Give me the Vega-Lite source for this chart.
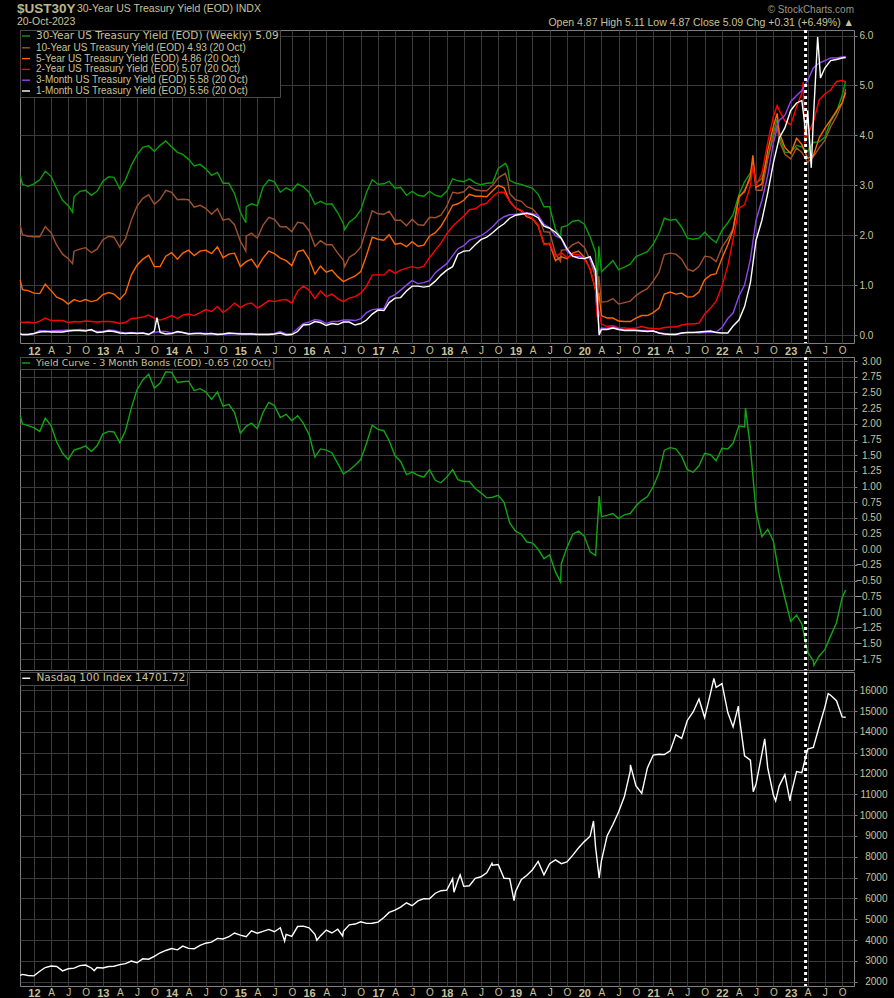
{
  "$schema": "https://vega.github.io/schema/vega-lite/v6.json",
  "background": "#000000",
  "padding": {"left": 16, "top": 2, "right": 11, "bottom": 0},
  "title": {
    "text": "$UST30Y",
    "subtitle": "20-Oct-2023",
    "anchor": "start",
    "offset": 0,
    "dy": 23.5,
    "font": "Liberation Sans",
    "fontSize": 13.5,
    "fontWeight": "bold",
    "color": "#bdb68a",
    "subtitleFont": "Liberation Sans",
    "subtitleFontSize": 10.5,
    "subtitleColor": "#c8c29a",
    "subtitlePadding": 1.5
  },
  "datasets": {
    "y30": [
      {"t":"2011-10-20","v":3.2},{"t":"2011-11","v":3.02},{"t":"2011-12","v":2.98},
      {"t":"2012-01","v":3.03},{"t":"2012-02","v":3.11},{"t":"2012-03","v":3.28},{"t":"2012-04","v":3.18},{"t":"2012-05","v":2.93},{"t":"2012-06","v":2.7},{"t":"2012-07","v":2.59},{"t":"2012-07-24","v":2.46},{"t":"2012-08","v":2.77},{"t":"2012-09","v":2.88},{"t":"2012-10","v":2.9},{"t":"2012-11","v":2.8},{"t":"2012-12","v":2.88},
      {"t":"2013-01","v":3.08},{"t":"2013-02","v":3.17},{"t":"2013-03","v":3.16},{"t":"2013-04","v":2.93},{"t":"2013-05","v":3.11},{"t":"2013-06","v":3.4},{"t":"2013-07","v":3.61},{"t":"2013-08","v":3.76},{"t":"2013-09","v":3.79},{"t":"2013-10","v":3.68},{"t":"2013-11","v":3.8},{"t":"2013-12","v":3.89},
      {"t":"2014-01","v":3.77},{"t":"2014-02","v":3.66},{"t":"2014-03","v":3.62},{"t":"2014-04","v":3.52},{"t":"2014-05","v":3.39},{"t":"2014-06","v":3.42},{"t":"2014-07","v":3.33},{"t":"2014-08","v":3.2},{"t":"2014-09","v":3.26},{"t":"2014-10","v":3.04},{"t":"2014-11","v":3.04},{"t":"2014-12","v":2.83},
      {"t":"2015-01","v":2.46},{"t":"2015-01-30","v":2.25},{"t":"2015-02","v":2.57},{"t":"2015-03","v":2.63},{"t":"2015-04","v":2.59},{"t":"2015-05","v":2.96},{"t":"2015-06","v":3.11},{"t":"2015-07","v":3.07},{"t":"2015-08","v":2.86},{"t":"2015-09","v":2.95},{"t":"2015-10","v":2.89},{"t":"2015-11","v":3.03},{"t":"2015-12","v":2.97},
      {"t":"2016-01","v":2.86},{"t":"2016-02","v":2.62},{"t":"2016-03","v":2.68},{"t":"2016-04","v":2.62},{"t":"2016-05","v":2.63},{"t":"2016-06","v":2.45},{"t":"2016-07","v":2.23},{"t":"2016-07-08","v":2.11},{"t":"2016-08","v":2.26},{"t":"2016-09","v":2.35},{"t":"2016-10","v":2.5},{"t":"2016-11","v":2.86},{"t":"2016-12","v":3.11},
      {"t":"2017-01","v":3.02},{"t":"2017-02","v":3.03},{"t":"2017-03","v":3.08},{"t":"2017-04","v":2.94},{"t":"2017-05","v":2.96},{"t":"2017-06","v":2.8},{"t":"2017-07","v":2.88},{"t":"2017-08","v":2.8},{"t":"2017-09","v":2.78},{"t":"2017-10","v":2.88},{"t":"2017-11","v":2.8},{"t":"2017-12","v":2.77},
      {"t":"2018-01","v":2.88},{"t":"2018-02","v":3.13},{"t":"2018-03","v":3.09},{"t":"2018-04","v":3.07},{"t":"2018-05","v":3.13},{"t":"2018-06","v":3.05},{"t":"2018-07","v":3.01},{"t":"2018-08","v":3.04},{"t":"2018-09","v":3.05},{"t":"2018-10","v":3.34},{"t":"2018-11-08","v":3.44},{"t":"2018-11-20","v":3.36},{"t":"2018-12","v":3.1},
      {"t":"2019-01","v":3.04},{"t":"2019-02","v":3.02},{"t":"2019-03","v":2.98},{"t":"2019-04","v":2.94},{"t":"2019-05","v":2.82},{"t":"2019-06","v":2.57},{"t":"2019-07","v":2.57},{"t":"2019-08","v":2.12},{"t":"2019-08-28","v":1.95},{"t":"2019-09","v":2.16},{"t":"2019-10","v":2.19},{"t":"2019-11","v":2.28},{"t":"2019-12","v":2.3},
      {"t":"2020-01","v":2.22},{"t":"2020-02","v":1.97},{"t":"2020-03","v":1.65},{"t":"2020-03-09","v":0.99},{"t":"2020-03-18","v":1.78},{"t":"2020-04","v":1.27},{"t":"2020-05","v":1.38},{"t":"2020-06","v":1.49},{"t":"2020-07","v":1.31},{"t":"2020-08","v":1.36},{"t":"2020-09","v":1.42},{"t":"2020-10","v":1.57},{"t":"2020-11","v":1.62},{"t":"2020-12","v":1.67},
      {"t":"2021-01","v":1.82},{"t":"2021-02","v":2.04},{"t":"2021-03","v":2.34},{"t":"2021-04","v":2.3},{"t":"2021-05","v":2.32},{"t":"2021-06","v":2.16},{"t":"2021-07","v":1.94},{"t":"2021-08","v":1.92},{"t":"2021-09","v":1.94},{"t":"2021-10","v":2.06},{"t":"2021-11","v":1.94},{"t":"2021-12","v":1.85},
      {"t":"2022-01","v":2.1},{"t":"2022-02","v":2.25},{"t":"2022-03","v":2.41},{"t":"2022-04","v":2.81},{"t":"2022-05","v":3.07},{"t":"2022-06","v":3.25},{"t":"2022-06-14","v":3.44},{"t":"2022-07","v":3.04},{"t":"2022-08","v":3.14},{"t":"2022-09","v":3.56},{"t":"2022-10","v":4.04},{"t":"2022-10-21","v":4.33},{"t":"2022-11","v":4.0},{"t":"2022-12","v":3.66},
      {"t":"2023-01","v":3.66},{"t":"2023-02","v":3.8},{"t":"2023-03","v":3.77},{"t":"2023-04","v":3.68},{"t":"2023-05","v":3.86},{"t":"2023-06","v":3.87},{"t":"2023-07","v":3.96},{"t":"2023-08","v":4.28},{"t":"2023-09","v":4.47},{"t":"2023-10","v":4.8},{"t":"2023-10-20","v":5.09}
    ],
    "y10": [
      {"t":"2011-10-20","v":2.2},{"t":"2011-11","v":2.01},{"t":"2011-12","v":1.98},
      {"t":"2012-01","v":1.97},{"t":"2012-02","v":1.97},{"t":"2012-03","v":2.17},{"t":"2012-04","v":2.05},{"t":"2012-05","v":1.8},{"t":"2012-06","v":1.62},{"t":"2012-07","v":1.53},{"t":"2012-07-24","v":1.43},{"t":"2012-08","v":1.68},{"t":"2012-09","v":1.72},{"t":"2012-10","v":1.75},{"t":"2012-11","v":1.65},{"t":"2012-12","v":1.72},
      {"t":"2013-01","v":1.91},{"t":"2013-02","v":1.98},{"t":"2013-03","v":1.96},{"t":"2013-04","v":1.76},{"t":"2013-05","v":1.93},{"t":"2013-06","v":2.3},{"t":"2013-07","v":2.58},{"t":"2013-08","v":2.74},{"t":"2013-09","v":2.81},{"t":"2013-10","v":2.62},{"t":"2013-11","v":2.72},{"t":"2013-12","v":2.9},
      {"t":"2014-01","v":2.86},{"t":"2014-02","v":2.71},{"t":"2014-03","v":2.72},{"t":"2014-04","v":2.71},{"t":"2014-05","v":2.56},{"t":"2014-06","v":2.6},{"t":"2014-07","v":2.54},{"t":"2014-08","v":2.42},{"t":"2014-09","v":2.53},{"t":"2014-10","v":2.3},{"t":"2014-11","v":2.33},{"t":"2014-12","v":2.21},
      {"t":"2015-01","v":1.88},{"t":"2015-01-30","v":1.68},{"t":"2015-02","v":1.98},{"t":"2015-03","v":2.04},{"t":"2015-04","v":1.94},{"t":"2015-05","v":2.2},{"t":"2015-06","v":2.36},{"t":"2015-07","v":2.32},{"t":"2015-08","v":2.17},{"t":"2015-09","v":2.17},{"t":"2015-10","v":2.07},{"t":"2015-11","v":2.26},{"t":"2015-12","v":2.24},
      {"t":"2016-01","v":2.09},{"t":"2016-02","v":1.78},{"t":"2016-03","v":1.89},{"t":"2016-04","v":1.81},{"t":"2016-05","v":1.81},{"t":"2016-06","v":1.64},{"t":"2016-07","v":1.5},{"t":"2016-07-08","v":1.37},{"t":"2016-08","v":1.56},{"t":"2016-09","v":1.63},{"t":"2016-10","v":1.76},{"t":"2016-11","v":2.14},{"t":"2016-12","v":2.49},
      {"t":"2017-01","v":2.43},{"t":"2017-02","v":2.42},{"t":"2017-03","v":2.48},{"t":"2017-04","v":2.3},{"t":"2017-05","v":2.3},{"t":"2017-06","v":2.19},{"t":"2017-07","v":2.32},{"t":"2017-08","v":2.21},{"t":"2017-09","v":2.2},{"t":"2017-10","v":2.36},{"t":"2017-11","v":2.35},{"t":"2017-12","v":2.4},
      {"t":"2018-01","v":2.58},{"t":"2018-02","v":2.86},{"t":"2018-03","v":2.84},{"t":"2018-04","v":2.87},{"t":"2018-05","v":2.98},{"t":"2018-06","v":2.91},{"t":"2018-07","v":2.89},{"t":"2018-08","v":2.89},{"t":"2018-09","v":3.0},{"t":"2018-10","v":3.15},{"t":"2018-11-08","v":3.24},{"t":"2018-11-20","v":3.1},{"t":"2018-12","v":2.83},
      {"t":"2019-01","v":2.71},{"t":"2019-02","v":2.68},{"t":"2019-03","v":2.57},{"t":"2019-04","v":2.53},{"t":"2019-05","v":2.4},{"t":"2019-06","v":2.07},{"t":"2019-07","v":2.06},{"t":"2019-08","v":1.63},{"t":"2019-08-28","v":1.47},{"t":"2019-09","v":1.7},{"t":"2019-10","v":1.71},{"t":"2019-11","v":1.81},{"t":"2019-12","v":1.86},
      {"t":"2020-01","v":1.76},{"t":"2020-02","v":1.5},{"t":"2020-03","v":1.15},{"t":"2020-03-09","v":0.54},{"t":"2020-03-18","v":1.18},{"t":"2020-04","v":0.66},{"t":"2020-05","v":0.67},{"t":"2020-06","v":0.73},{"t":"2020-07","v":0.62},{"t":"2020-08","v":0.65},{"t":"2020-09","v":0.68},{"t":"2020-10","v":0.79},{"t":"2020-11","v":0.87},{"t":"2020-12","v":0.93},
      {"t":"2021-01","v":1.08},{"t":"2021-02","v":1.26},{"t":"2021-03","v":1.61},{"t":"2021-04","v":1.64},{"t":"2021-05","v":1.62},{"t":"2021-06","v":1.52},{"t":"2021-07","v":1.32},{"t":"2021-08","v":1.28},{"t":"2021-09","v":1.37},{"t":"2021-10","v":1.58},{"t":"2021-11","v":1.56},{"t":"2021-12","v":1.47},
      {"t":"2022-01","v":1.76},{"t":"2022-02","v":1.93},{"t":"2022-03","v":2.13},{"t":"2022-04","v":2.75},{"t":"2022-05","v":2.9},{"t":"2022-06","v":3.14},{"t":"2022-06-14","v":3.48},{"t":"2022-07","v":2.9},{"t":"2022-08","v":2.9},{"t":"2022-09","v":3.52},{"t":"2022-10","v":3.98},{"t":"2022-10-21","v":4.22},{"t":"2022-11","v":3.89},{"t":"2022-12","v":3.62},
      {"t":"2023-01","v":3.53},{"t":"2023-02","v":3.75},{"t":"2023-03","v":3.66},{"t":"2023-04","v":3.46},{"t":"2023-05","v":3.57},{"t":"2023-06","v":3.75},{"t":"2023-07","v":3.9},{"t":"2023-08","v":4.17},{"t":"2023-09","v":4.38},{"t":"2023-10","v":4.65},{"t":"2023-10-20","v":4.93}
    ],
    "y5": [
      {"t":"2011-10-20","v":1.1},{"t":"2011-11","v":0.91},{"t":"2011-12","v":0.89},
      {"t":"2012-01","v":0.84},{"t":"2012-02","v":0.83},{"t":"2012-03","v":1.02},{"t":"2012-04","v":0.89},{"t":"2012-05","v":0.76},{"t":"2012-06","v":0.71},{"t":"2012-07","v":0.62},{"t":"2012-08","v":0.71},{"t":"2012-09","v":0.67},{"t":"2012-10","v":0.71},{"t":"2012-11","v":0.67},{"t":"2012-12","v":0.7},
      {"t":"2013-01","v":0.81},{"t":"2013-02","v":0.85},{"t":"2013-03","v":0.82},{"t":"2013-04","v":0.71},{"t":"2013-05","v":0.84},{"t":"2013-06","v":1.2},{"t":"2013-07","v":1.4},{"t":"2013-08","v":1.52},{"t":"2013-09","v":1.6},{"t":"2013-10","v":1.37},{"t":"2013-11","v":1.37},{"t":"2013-12","v":1.58},
      {"t":"2014-01","v":1.65},{"t":"2014-02","v":1.52},{"t":"2014-03","v":1.64},{"t":"2014-04","v":1.7},{"t":"2014-05","v":1.59},{"t":"2014-06","v":1.68},{"t":"2014-07","v":1.7},{"t":"2014-08","v":1.63},{"t":"2014-09","v":1.77},{"t":"2014-10","v":1.55},{"t":"2014-11","v":1.62},{"t":"2014-12","v":1.64},
      {"t":"2015-01","v":1.37},{"t":"2015-02","v":1.47},{"t":"2015-03","v":1.52},{"t":"2015-04","v":1.35},{"t":"2015-05","v":1.54},{"t":"2015-06","v":1.68},{"t":"2015-07","v":1.63},{"t":"2015-08","v":1.54},{"t":"2015-09","v":1.49},{"t":"2015-10","v":1.39},{"t":"2015-11","v":1.67},{"t":"2015-12","v":1.7},
      {"t":"2016-01","v":1.52},{"t":"2016-02","v":1.22},{"t":"2016-03","v":1.38},{"t":"2016-04","v":1.26},{"t":"2016-05","v":1.3},{"t":"2016-06","v":1.17},{"t":"2016-07","v":1.07},{"t":"2016-08","v":1.13},{"t":"2016-09","v":1.18},{"t":"2016-10","v":1.27},{"t":"2016-11","v":1.6},{"t":"2016-12","v":1.96},
      {"t":"2017-01","v":1.92},{"t":"2017-02","v":1.9},{"t":"2017-03","v":2.01},{"t":"2017-04","v":1.82},{"t":"2017-05","v":1.84},{"t":"2017-06","v":1.77},{"t":"2017-07","v":1.87},{"t":"2017-08","v":1.78},{"t":"2017-09","v":1.8},{"t":"2017-10","v":1.98},{"t":"2017-11","v":2.05},{"t":"2017-12","v":2.18},
      {"t":"2018-01","v":2.38},{"t":"2018-02","v":2.6},{"t":"2018-03","v":2.63},{"t":"2018-04","v":2.7},{"t":"2018-05","v":2.82},{"t":"2018-06","v":2.78},{"t":"2018-07","v":2.78},{"t":"2018-08","v":2.77},{"t":"2018-09","v":2.89},{"t":"2018-10","v":3.0},{"t":"2018-11","v":2.95},{"t":"2018-12","v":2.68},
      {"t":"2019-01","v":2.54},{"t":"2019-02","v":2.49},{"t":"2019-03","v":2.37},{"t":"2019-04","v":2.33},{"t":"2019-05","v":2.19},{"t":"2019-06","v":1.83},{"t":"2019-07","v":1.83},{"t":"2019-08","v":1.49},{"t":"2019-09","v":1.57},{"t":"2019-10","v":1.53},{"t":"2019-11","v":1.64},{"t":"2019-12","v":1.68},
      {"t":"2020-01","v":1.56},{"t":"2020-02","v":1.32},{"t":"2020-03","v":0.9},{"t":"2020-03-09","v":0.46},{"t":"2020-03-18","v":0.85},{"t":"2020-04","v":0.39},{"t":"2020-05","v":0.34},{"t":"2020-06","v":0.34},{"t":"2020-07","v":0.28},{"t":"2020-08","v":0.27},{"t":"2020-09","v":0.27},{"t":"2020-10","v":0.34},{"t":"2020-11","v":0.39},{"t":"2020-12","v":0.39},
      {"t":"2021-01","v":0.45},{"t":"2021-02","v":0.54},{"t":"2021-03","v":0.82},{"t":"2021-04","v":0.86},{"t":"2021-05","v":0.82},{"t":"2021-06","v":0.84},{"t":"2021-07","v":0.76},{"t":"2021-08","v":0.77},{"t":"2021-09","v":0.86},{"t":"2021-10","v":1.11},{"t":"2021-11","v":1.2},{"t":"2021-12","v":1.23},
      {"t":"2022-01","v":1.54},{"t":"2022-02","v":1.81},{"t":"2022-03","v":2.11},{"t":"2022-04","v":2.78},{"t":"2022-05","v":2.87},{"t":"2022-06","v":3.19},{"t":"2022-06-14","v":3.6},{"t":"2022-07","v":2.96},{"t":"2022-08","v":3.03},{"t":"2022-09","v":3.7},{"t":"2022-10","v":4.18},{"t":"2022-10-21","v":4.44},{"t":"2022-11","v":4.06},{"t":"2022-12","v":3.76},
      {"t":"2023-01","v":3.64},{"t":"2023-02","v":3.94},{"t":"2023-03","v":3.82},{"t":"2023-04","v":3.54},{"t":"2023-05","v":3.59},{"t":"2023-06","v":3.95},{"t":"2023-07","v":4.14},{"t":"2023-08","v":4.31},{"t":"2023-09","v":4.49},{"t":"2023-10","v":4.65},{"t":"2023-10-20","v":4.86}
    ],
    "y2": [
      {"t":"2011-10-20","v":0.28},{"t":"2011-11","v":0.25},{"t":"2011-12","v":0.26},
      {"t":"2012-01","v":0.24},{"t":"2012-02","v":0.28},{"t":"2012-03","v":0.34},{"t":"2012-04","v":0.29},{"t":"2012-05","v":0.29},{"t":"2012-06","v":0.29},{"t":"2012-07","v":0.25},{"t":"2012-08","v":0.27},{"t":"2012-09","v":0.26},{"t":"2012-10","v":0.28},{"t":"2012-11","v":0.27},{"t":"2012-12","v":0.26},
      {"t":"2013-01","v":0.27},{"t":"2013-02","v":0.27},{"t":"2013-03","v":0.26},{"t":"2013-04","v":0.23},{"t":"2013-05","v":0.25},{"t":"2013-06","v":0.33},{"t":"2013-07","v":0.34},{"t":"2013-08","v":0.36},{"t":"2013-09","v":0.4},{"t":"2013-10","v":0.34},{"t":"2013-11","v":0.3},{"t":"2013-12","v":0.34},
      {"t":"2014-01","v":0.39},{"t":"2014-02","v":0.33},{"t":"2014-03","v":0.4},{"t":"2014-04","v":0.42},{"t":"2014-05","v":0.39},{"t":"2014-06","v":0.45},{"t":"2014-07","v":0.51},{"t":"2014-08","v":0.47},{"t":"2014-09","v":0.57},{"t":"2014-10","v":0.45},{"t":"2014-11","v":0.53},{"t":"2014-12","v":0.64},
      {"t":"2015-01","v":0.55},{"t":"2015-02","v":0.62},{"t":"2015-03","v":0.64},{"t":"2015-04","v":0.54},{"t":"2015-05","v":0.61},{"t":"2015-06","v":0.69},{"t":"2015-07","v":0.67},{"t":"2015-08","v":0.7},{"t":"2015-09","v":0.71},{"t":"2015-10","v":0.64},{"t":"2015-11","v":0.88},{"t":"2015-12","v":0.98},
      {"t":"2016-01","v":0.9},{"t":"2016-02","v":0.73},{"t":"2016-03","v":0.88},{"t":"2016-04","v":0.77},{"t":"2016-05","v":0.82},{"t":"2016-06","v":0.73},{"t":"2016-07","v":0.67},{"t":"2016-08","v":0.74},{"t":"2016-09","v":0.77},{"t":"2016-10","v":0.84},{"t":"2016-11","v":0.98},{"t":"2016-12","v":1.2},
      {"t":"2017-01","v":1.21},{"t":"2017-02","v":1.2},{"t":"2017-03","v":1.31},{"t":"2017-04","v":1.24},{"t":"2017-05","v":1.3},{"t":"2017-06","v":1.34},{"t":"2017-07","v":1.37},{"t":"2017-08","v":1.34},{"t":"2017-09","v":1.38},{"t":"2017-10","v":1.55},{"t":"2017-11","v":1.7},{"t":"2017-12","v":1.84},
      {"t":"2018-01","v":2.03},{"t":"2018-02","v":2.18},{"t":"2018-03","v":2.28},{"t":"2018-04","v":2.38},{"t":"2018-05","v":2.51},{"t":"2018-06","v":2.53},{"t":"2018-07","v":2.61},{"t":"2018-08","v":2.64},{"t":"2018-09","v":2.77},{"t":"2018-10","v":2.86},{"t":"2018-11","v":2.86},{"t":"2018-12","v":2.68},
      {"t":"2019-01","v":2.54},{"t":"2019-02","v":2.5},{"t":"2019-03","v":2.41},{"t":"2019-04","v":2.34},{"t":"2019-05","v":2.21},{"t":"2019-06","v":1.81},{"t":"2019-07","v":1.84},{"t":"2019-08","v":1.57},{"t":"2019-09","v":1.65},{"t":"2019-10","v":1.55},{"t":"2019-11","v":1.61},{"t":"2019-12","v":1.61},
      {"t":"2020-01","v":1.52},{"t":"2020-02","v":1.33},{"t":"2020-03","v":0.9},{"t":"2020-03-09","v":0.37},{"t":"2020-03-18","v":0.5},{"t":"2020-04","v":0.22},{"t":"2020-05","v":0.17},{"t":"2020-06","v":0.19},{"t":"2020-07","v":0.14},{"t":"2020-08","v":0.14},{"t":"2020-09","v":0.13},{"t":"2020-10","v":0.14},{"t":"2020-11","v":0.17},{"t":"2020-12","v":0.14},
      {"t":"2021-01","v":0.13},{"t":"2021-02","v":0.12},{"t":"2021-03","v":0.15},{"t":"2021-04","v":0.16},{"t":"2021-05","v":0.16},{"t":"2021-06","v":0.2},{"t":"2021-07","v":0.22},{"t":"2021-08","v":0.22},{"t":"2021-09","v":0.24},{"t":"2021-10","v":0.42},{"t":"2021-11","v":0.54},{"t":"2021-12","v":0.68},
      {"t":"2022-01","v":0.98},{"t":"2022-02","v":1.39},{"t":"2022-03","v":1.91},{"t":"2022-04","v":2.54},{"t":"2022-05","v":2.61},{"t":"2022-06","v":2.99},{"t":"2022-06-14","v":3.4},{"t":"2022-07","v":3.0},{"t":"2022-08","v":3.24},{"t":"2022-09","v":3.86},{"t":"2022-10","v":4.38},{"t":"2022-10-21","v":4.6},{"t":"2022-11","v":4.5},{"t":"2022-12","v":4.29},
      {"t":"2023-01","v":4.21},{"t":"2023-02","v":4.57},{"t":"2023-03","v":4.85},{"t":"2023-03-08","v":5.07},{"t":"2023-03-17","v":3.85},{"t":"2023-04","v":4.02},{"t":"2023-05","v":4.26},{"t":"2023-06","v":4.71},{"t":"2023-07","v":4.83},{"t":"2023-08","v":4.91},{"t":"2023-09","v":5.08},{"t":"2023-10","v":5.1},{"t":"2023-10-20","v":5.07}
    ],
    "m3": [
      {"t":"2011-10-20","v":0.02},{"t":"2011-11","v":0.01},{"t":"2011-12","v":0.01},
      {"t":"2012-01","v":0.03},{"t":"2012-02","v":0.09},{"t":"2012-03","v":0.08},{"t":"2012-04","v":0.08},{"t":"2012-05","v":0.09},{"t":"2012-06","v":0.09},{"t":"2012-07","v":0.1},{"t":"2012-08","v":0.1},{"t":"2012-09","v":0.11},{"t":"2012-10","v":0.1},{"t":"2012-11","v":0.09},{"t":"2012-12","v":0.07},
      {"t":"2013-01","v":0.07},{"t":"2013-02","v":0.1},{"t":"2013-03","v":0.09},{"t":"2013-04","v":0.06},{"t":"2013-05","v":0.04},{"t":"2013-06","v":0.05},{"t":"2013-07","v":0.04},{"t":"2013-08","v":0.04},{"t":"2013-09","v":0.02},{"t":"2013-10","v":0.05},{"t":"2013-11","v":0.07},{"t":"2013-12","v":0.07},
      {"t":"2014-01","v":0.04},{"t":"2014-02","v":0.05},{"t":"2014-03","v":0.05},{"t":"2014-04","v":0.03},{"t":"2014-05","v":0.03},{"t":"2014-06","v":0.04},{"t":"2014-07","v":0.03},{"t":"2014-08","v":0.03},{"t":"2014-09","v":0.02},{"t":"2014-10","v":0.02},{"t":"2014-11","v":0.02},{"t":"2014-12","v":0.03},
      {"t":"2015-01","v":0.03},{"t":"2015-02","v":0.02},{"t":"2015-03","v":0.03},{"t":"2015-04","v":0.02},{"t":"2015-05","v":0.02},{"t":"2015-06","v":0.02},{"t":"2015-07","v":0.03},{"t":"2015-08","v":0.07},{"t":"2015-09","v":0.02},{"t":"2015-10","v":0.02},{"t":"2015-11","v":0.13},{"t":"2015-12","v":0.23},
      {"t":"2016-01","v":0.26},{"t":"2016-02","v":0.31},{"t":"2016-03","v":0.29},{"t":"2016-04","v":0.23},{"t":"2016-05","v":0.27},{"t":"2016-06","v":0.27},{"t":"2016-07","v":0.3},{"t":"2016-08","v":0.3},{"t":"2016-09","v":0.29},{"t":"2016-10","v":0.33},{"t":"2016-11","v":0.45},{"t":"2016-12","v":0.51},
      {"t":"2017-01","v":0.52},{"t":"2017-02","v":0.53},{"t":"2017-03","v":0.75},{"t":"2017-04","v":0.81},{"t":"2017-05","v":0.9},{"t":"2017-06","v":1.0},{"t":"2017-07","v":1.09},{"t":"2017-08","v":1.03},{"t":"2017-09","v":1.05},{"t":"2017-10","v":1.09},{"t":"2017-11","v":1.25},{"t":"2017-12","v":1.34},
      {"t":"2018-01","v":1.43},{"t":"2018-02","v":1.59},{"t":"2018-03","v":1.73},{"t":"2018-04","v":1.79},{"t":"2018-05","v":1.9},{"t":"2018-06","v":1.94},{"t":"2018-07","v":1.99},{"t":"2018-08","v":2.07},{"t":"2018-09","v":2.17},{"t":"2018-10","v":2.29},{"t":"2018-11","v":2.37},{"t":"2018-12","v":2.41},
      {"t":"2019-01","v":2.42},{"t":"2019-02","v":2.44},{"t":"2019-03","v":2.45},{"t":"2019-04","v":2.43},{"t":"2019-05","v":2.4},{"t":"2019-06","v":2.22},{"t":"2019-07","v":2.15},{"t":"2019-08","v":1.99},{"t":"2019-09","v":1.93},{"t":"2019-10","v":1.68},{"t":"2019-11","v":1.57},{"t":"2019-12","v":1.57},
      {"t":"2020-01","v":1.55},{"t":"2020-02","v":1.54},{"t":"2020-03","v":1.25},{"t":"2020-03-20","v":0.05},{"t":"2020-04","v":0.14},{"t":"2020-05","v":0.13},{"t":"2020-06","v":0.16},{"t":"2020-07","v":0.13},{"t":"2020-08","v":0.1},{"t":"2020-09","v":0.11},{"t":"2020-10","v":0.1},{"t":"2020-11","v":0.09},{"t":"2020-12","v":0.09},
      {"t":"2021-01","v":0.08},{"t":"2021-02","v":0.04},{"t":"2021-03","v":0.03},{"t":"2021-04","v":0.02},{"t":"2021-05","v":0.02},{"t":"2021-06","v":0.04},{"t":"2021-07","v":0.05},{"t":"2021-08","v":0.05},{"t":"2021-09","v":0.04},{"t":"2021-10","v":0.05},{"t":"2021-11","v":0.05},{"t":"2021-12","v":0.06},
      {"t":"2022-01","v":0.15},{"t":"2022-02","v":0.33},{"t":"2022-03","v":0.44},{"t":"2022-04","v":0.78},{"t":"2022-05","v":1.0},{"t":"2022-06","v":1.52},{"t":"2022-07","v":2.3},{"t":"2022-08","v":2.7},{"t":"2022-09","v":3.2},{"t":"2022-10","v":3.85},{"t":"2022-11","v":4.3},{"t":"2022-12","v":4.4},
      {"t":"2023-01","v":4.68},{"t":"2023-02","v":4.8},{"t":"2023-03","v":4.9},{"t":"2023-04","v":5.1},{"t":"2023-05","v":5.35},{"t":"2023-06","v":5.45},{"t":"2023-07","v":5.5},{"t":"2023-08","v":5.55},{"t":"2023-09","v":5.55},{"t":"2023-10","v":5.57},{"t":"2023-10-20","v":5.58}
    ],
    "m1": [
      {"t":"2011-10-20","v":0.02},{"t":"2011-11","v":0.01},{"t":"2011-12","v":0.01},
      {"t":"2012-01","v":0.03},{"t":"2012-02","v":0.06},{"t":"2012-03","v":0.07},{"t":"2012-04","v":0.06},{"t":"2012-05","v":0.06},{"t":"2012-06","v":0.06},{"t":"2012-07","v":0.08},{"t":"2012-08","v":0.09},{"t":"2012-09","v":0.09},{"t":"2012-10","v":0.08},{"t":"2012-11","v":0.11},{"t":"2012-12","v":0.05},
      {"t":"2013-01","v":0.06},{"t":"2013-02","v":0.08},{"t":"2013-03","v":0.07},{"t":"2013-04","v":0.04},{"t":"2013-05","v":0.03},{"t":"2013-06","v":0.04},{"t":"2013-07","v":0.03},{"t":"2013-08","v":0.04},{"t":"2013-09","v":0.01},{"t":"2013-10","v":0.08},{"t":"2013-10-15","v":0.35},{"t":"2013-11","v":0.05},{"t":"2013-12","v":0.02},
      {"t":"2014-01","v":0.03},{"t":"2014-02","v":0.07},{"t":"2014-03","v":0.05},{"t":"2014-04","v":0.02},{"t":"2014-05","v":0.03},{"t":"2014-06","v":0.03},{"t":"2014-07","v":0.02},{"t":"2014-08","v":0.03},{"t":"2014-09","v":0.01},{"t":"2014-10","v":0.02},{"t":"2014-11","v":0.04},{"t":"2014-12","v":0.03},
      {"t":"2015-01","v":0.02},{"t":"2015-02","v":0.02},{"t":"2015-03","v":0.02},{"t":"2015-04","v":0.01},{"t":"2015-05","v":0.01},{"t":"2015-06","v":0.01},{"t":"2015-07","v":0.02},{"t":"2015-08","v":0.04},{"t":"2015-09","v":0.0},{"t":"2015-10","v":0.01},{"t":"2015-11","v":0.07},{"t":"2015-12","v":0.2},
      {"t":"2016-01","v":0.21},{"t":"2016-02","v":0.27},{"t":"2016-03","v":0.25},{"t":"2016-04","v":0.19},{"t":"2016-05","v":0.23},{"t":"2016-06","v":0.21},{"t":"2016-07","v":0.26},{"t":"2016-08","v":0.26},{"t":"2016-09","v":0.2},{"t":"2016-10","v":0.23},{"t":"2016-11","v":0.3},{"t":"2016-12","v":0.42},
      {"t":"2017-01","v":0.5},{"t":"2017-02","v":0.49},{"t":"2017-03","v":0.65},{"t":"2017-04","v":0.74},{"t":"2017-05","v":0.75},{"t":"2017-06","v":0.88},{"t":"2017-07","v":0.98},{"t":"2017-08","v":0.98},{"t":"2017-09","v":0.96},{"t":"2017-10","v":0.98},{"t":"2017-11","v":1.08},{"t":"2017-12","v":1.2},
      {"t":"2018-01","v":1.3},{"t":"2018-02","v":1.37},{"t":"2018-03","v":1.62},{"t":"2018-04","v":1.68},{"t":"2018-05","v":1.69},{"t":"2018-06","v":1.81},{"t":"2018-07","v":1.91},{"t":"2018-08","v":1.96},{"t":"2018-09","v":2.05},{"t":"2018-10","v":2.15},{"t":"2018-11","v":2.23},{"t":"2018-12","v":2.34},
      {"t":"2019-01","v":2.4},{"t":"2019-02","v":2.42},{"t":"2019-03","v":2.44},{"t":"2019-04","v":2.41},{"t":"2019-05","v":2.35},{"t":"2019-06","v":2.18},{"t":"2019-07","v":2.14},{"t":"2019-08","v":2.06},{"t":"2019-09","v":1.94},{"t":"2019-10","v":1.73},{"t":"2019-11","v":1.58},{"t":"2019-12","v":1.54},
      {"t":"2020-01","v":1.53},{"t":"2020-02","v":1.57},{"t":"2020-03","v":1.3},{"t":"2020-03-20","v":0.0},{"t":"2020-04","v":0.11},{"t":"2020-05","v":0.11},{"t":"2020-06","v":0.14},{"t":"2020-07","v":0.11},{"t":"2020-08","v":0.09},{"t":"2020-09","v":0.09},{"t":"2020-10","v":0.09},{"t":"2020-11","v":0.08},{"t":"2020-12","v":0.07},
      {"t":"2021-01","v":0.08},{"t":"2021-02","v":0.04},{"t":"2021-03","v":0.02},{"t":"2021-04","v":0.01},{"t":"2021-05","v":0.01},{"t":"2021-06","v":0.04},{"t":"2021-07","v":0.05},{"t":"2021-08","v":0.05},{"t":"2021-09","v":0.06},{"t":"2021-10","v":0.07},{"t":"2021-11","v":0.08},{"t":"2021-12","v":0.05},
      {"t":"2022-01","v":0.04},{"t":"2022-02","v":0.04},{"t":"2022-03","v":0.18},{"t":"2022-04","v":0.3},{"t":"2022-05","v":0.57},{"t":"2022-06","v":1.05},{"t":"2022-07","v":1.9},{"t":"2022-08","v":2.3},{"t":"2022-09","v":2.85},{"t":"2022-10","v":3.45},{"t":"2022-11","v":3.95},{"t":"2022-12","v":4.15},
      {"t":"2023-01","v":4.5},{"t":"2023-02","v":4.65},{"t":"2023-03","v":4.7},{"t":"2023-03-24","v":4.0},{"t":"2023-04","v":4.5},{"t":"2023-04-20","v":3.35},{"t":"2023-05","v":4.3},{"t":"2023-05-24","v":5.97},{"t":"2023-06","v":5.55},{"t":"2023-06-08","v":5.15},{"t":"2023-07","v":5.35},{"t":"2023-08","v":5.5},{"t":"2023-09","v":5.52},{"t":"2023-10","v":5.55},{"t":"2023-10-20","v":5.56}
    ],
    "curve": [
      {"t":"2011-10-20","v":2.13},{"t":"2011-11","v":2.0},{"t":"2011-12","v":1.97},
      {"t":"2012-01","v":1.94},{"t":"2012-02","v":1.88},{"t":"2012-03","v":2.09},{"t":"2012-04","v":1.97},{"t":"2012-05","v":1.71},{"t":"2012-06","v":1.53},{"t":"2012-07","v":1.43},{"t":"2012-08","v":1.58},{"t":"2012-09","v":1.61},{"t":"2012-10","v":1.65},{"t":"2012-11","v":1.56},{"t":"2012-12","v":1.65},
      {"t":"2013-01","v":1.84},{"t":"2013-02","v":1.88},{"t":"2013-03","v":1.87},{"t":"2013-04","v":1.7},{"t":"2013-05","v":1.89},{"t":"2013-06","v":2.25},{"t":"2013-07","v":2.54},{"t":"2013-08","v":2.7},{"t":"2013-09","v":2.79},{"t":"2013-10","v":2.57},{"t":"2013-11","v":2.65},{"t":"2013-12","v":2.83},
      {"t":"2014-01","v":2.82},{"t":"2014-02","v":2.66},{"t":"2014-03","v":2.67},{"t":"2014-04","v":2.68},{"t":"2014-05","v":2.53},{"t":"2014-06","v":2.56},{"t":"2014-07","v":2.51},{"t":"2014-08","v":2.39},{"t":"2014-09","v":2.51},{"t":"2014-10","v":2.28},{"t":"2014-11","v":2.31},{"t":"2014-12","v":2.18},
      {"t":"2015-01","v":1.85},{"t":"2015-02","v":1.96},{"t":"2015-03","v":2.01},{"t":"2015-04","v":1.92},{"t":"2015-05","v":2.18},{"t":"2015-06","v":2.34},{"t":"2015-07","v":2.29},{"t":"2015-08","v":2.1},{"t":"2015-09","v":2.15},{"t":"2015-10","v":2.05},{"t":"2015-11","v":2.13},{"t":"2015-12","v":2.01},
      {"t":"2016-01","v":1.83},{"t":"2016-02","v":1.47},{"t":"2016-03","v":1.6},{"t":"2016-04","v":1.58},{"t":"2016-05","v":1.54},{"t":"2016-06","v":1.37},{"t":"2016-07","v":1.2},{"t":"2016-08","v":1.26},{"t":"2016-09","v":1.34},{"t":"2016-10","v":1.43},{"t":"2016-11","v":1.69},{"t":"2016-12","v":1.98},
      {"t":"2017-01","v":1.91},{"t":"2017-02","v":1.89},{"t":"2017-03","v":1.73},{"t":"2017-04","v":1.49},{"t":"2017-05","v":1.4},{"t":"2017-06","v":1.19},{"t":"2017-07","v":1.23},{"t":"2017-08","v":1.18},{"t":"2017-09","v":1.15},{"t":"2017-10","v":1.27},{"t":"2017-11","v":1.1},{"t":"2017-12","v":1.06},
      {"t":"2018-01","v":1.15},{"t":"2018-02","v":1.27},{"t":"2018-03","v":1.11},{"t":"2018-04","v":1.08},{"t":"2018-05","v":1.08},{"t":"2018-06","v":0.97},{"t":"2018-07","v":0.9},{"t":"2018-08","v":0.82},{"t":"2018-09","v":0.83},{"t":"2018-10","v":0.86},{"t":"2018-11","v":0.75},{"t":"2018-12","v":0.42},
      {"t":"2019-01","v":0.29},{"t":"2019-02","v":0.24},{"t":"2019-03","v":0.12},{"t":"2019-04","v":0.1},{"t":"2019-05","v":0.0},{"t":"2019-06","v":-0.15},{"t":"2019-07","v":-0.09},{"t":"2019-08","v":-0.36},{"t":"2019-08-28","v":-0.52},{"t":"2019-09","v":-0.23},{"t":"2019-10","v":0.03},{"t":"2019-11","v":0.24},{"t":"2019-12","v":0.29},
      {"t":"2020-01","v":0.21},{"t":"2020-02","v":-0.04},{"t":"2020-03","v":-0.1},{"t":"2020-03-20","v":0.85},{"t":"2020-04","v":0.52},{"t":"2020-05","v":0.54},{"t":"2020-06","v":0.57},{"t":"2020-07","v":0.49},{"t":"2020-08","v":0.55},{"t":"2020-09","v":0.57},{"t":"2020-10","v":0.69},{"t":"2020-11","v":0.78},{"t":"2020-12","v":0.84},
      {"t":"2021-01","v":1.0},{"t":"2021-02","v":1.22},{"t":"2021-03","v":1.58},{"t":"2021-04","v":1.62},{"t":"2021-05","v":1.6},{"t":"2021-06","v":1.48},{"t":"2021-07","v":1.27},{"t":"2021-08","v":1.23},{"t":"2021-09","v":1.33},{"t":"2021-10","v":1.53},{"t":"2021-11","v":1.51},{"t":"2021-12","v":1.41},
      {"t":"2022-01","v":1.61},{"t":"2022-02","v":1.6},{"t":"2022-03","v":1.69},{"t":"2022-04","v":1.97},{"t":"2022-05","v":1.95},{"t":"2022-05-06","v":2.25},{"t":"2022-06","v":1.62},{"t":"2022-07","v":0.6},{"t":"2022-08","v":0.2},{"t":"2022-09","v":0.32},{"t":"2022-10","v":0.13},{"t":"2022-11","v":-0.41},{"t":"2022-12","v":-0.78},
      {"t":"2023-01","v":-1.15},{"t":"2023-02","v":-1.05},{"t":"2023-03","v":-1.19},{"t":"2023-04","v":-1.64},{"t":"2023-05","v":-1.78},{"t":"2023-05-04","v":-1.85},{"t":"2023-06","v":-1.7},{"t":"2023-07","v":-1.6},{"t":"2023-08","v":-1.38},{"t":"2023-09","v":-1.17},{"t":"2023-10","v":-0.77},{"t":"2023-10-20","v":-0.65}
    ],
    "ndx": [
      {"t":"2011-10-20","v":2300},{"t":"2011-11","v":2350},{"t":"2011-12","v":2300},
      {"t":"2012-01","v":2280},{"t":"2012-02","v":2500},{"t":"2012-03","v":2680},{"t":"2012-04","v":2750},{"t":"2012-05","v":2730},{"t":"2012-06","v":2520},{"t":"2012-07","v":2620},{"t":"2012-08","v":2650},{"t":"2012-09","v":2770},{"t":"2012-10","v":2800},{"t":"2012-11","v":2660},{"t":"2012-11-16","v":2530},{"t":"2012-12","v":2680},
      {"t":"2013-01","v":2660},{"t":"2013-02","v":2730},{"t":"2013-03","v":2740},{"t":"2013-04","v":2820},{"t":"2013-05","v":2870},{"t":"2013-06","v":2990},{"t":"2013-07","v":2910},{"t":"2013-08","v":3100},{"t":"2013-09","v":3080},{"t":"2013-10","v":3220},{"t":"2013-11","v":3390},{"t":"2013-12","v":3500},
      {"t":"2014-01","v":3590},{"t":"2014-02","v":3530},{"t":"2014-03","v":3710},{"t":"2014-04","v":3600},{"t":"2014-05","v":3580},{"t":"2014-06","v":3740},{"t":"2014-07","v":3850},{"t":"2014-08","v":3900},{"t":"2014-09","v":4080},{"t":"2014-10","v":4050},{"t":"2014-11","v":4160},{"t":"2014-12","v":4340},
      {"t":"2015-01","v":4240},{"t":"2015-02","v":4160},{"t":"2015-03","v":4440},{"t":"2015-04","v":4330},{"t":"2015-05","v":4420},{"t":"2015-06","v":4510},{"t":"2015-07","v":4400},{"t":"2015-08","v":4590},{"t":"2015-08-24","v":3950},{"t":"2015-09","v":4270},{"t":"2015-10","v":4180},{"t":"2015-11","v":4650},{"t":"2015-12","v":4670},
      {"t":"2016-01","v":4590},{"t":"2016-02","v":4280},{"t":"2016-02-11","v":3990},{"t":"2016-03","v":4200},{"t":"2016-04","v":4480},{"t":"2016-05","v":4340},{"t":"2016-06","v":4520},{"t":"2016-06-27","v":4200},{"t":"2016-07","v":4420},{"t":"2016-08","v":4730},{"t":"2016-09","v":4770},{"t":"2016-10","v":4880},{"t":"2016-11","v":4800},{"t":"2016-12","v":4810},
      {"t":"2017-01","v":4860},{"t":"2017-02","v":5080},{"t":"2017-03","v":5330},{"t":"2017-04","v":5440},{"t":"2017-05","v":5580},{"t":"2017-06","v":5790},{"t":"2017-07","v":5650},{"t":"2017-08","v":5880},{"t":"2017-09","v":5990},{"t":"2017-10","v":5980},{"t":"2017-11","v":6250},{"t":"2017-12","v":6370},
      {"t":"2018-01","v":6400},{"t":"2018-02","v":6950},{"t":"2018-02-08","v":6300},{"t":"2018-03","v":6860},{"t":"2018-03-13","v":7130},{"t":"2018-04","v":6580},{"t":"2018-05","v":6610},{"t":"2018-06","v":6970},{"t":"2018-07","v":7040},{"t":"2018-08","v":7230},{"t":"2018-08-29","v":7690},{"t":"2018-09","v":7600},{"t":"2018-10","v":7630},{"t":"2018-11","v":6970},{"t":"2018-12","v":6950},{"t":"2018-12-24","v":5900},
      {"t":"2019-01","v":6330},{"t":"2019-02","v":6910},{"t":"2019-03","v":7100},{"t":"2019-04","v":7380},{"t":"2019-05","v":7780},{"t":"2019-06","v":7130},{"t":"2019-07","v":7670},{"t":"2019-08","v":7850},{"t":"2019-09","v":7670},{"t":"2019-10","v":7750},{"t":"2019-11","v":8080},{"t":"2019-12","v":8420},
      {"t":"2020-01","v":8730},{"t":"2020-02","v":8990},{"t":"2020-02-19","v":9720},{"t":"2020-03","v":8460},{"t":"2020-03-20","v":6990},{"t":"2020-04","v":7810},{"t":"2020-05","v":9000},{"t":"2020-06","v":9550},{"t":"2020-07","v":10150},{"t":"2020-08","v":10900},{"t":"2020-09","v":12110},{"t":"2020-09-02","v":12420},{"t":"2020-10","v":11420},{"t":"2020-11","v":11050},{"t":"2020-12","v":12270},
      {"t":"2021-01","v":12890},{"t":"2021-02","v":12930},{"t":"2021-03","v":12910},{"t":"2021-04","v":13090},{"t":"2021-05","v":13860},{"t":"2021-06","v":13690},{"t":"2021-07","v":14550},{"t":"2021-08","v":14960},{"t":"2021-09","v":15580},{"t":"2021-10","v":14690},{"t":"2021-11","v":15850},{"t":"2021-11-19","v":16570},{"t":"2021-12","v":16140},
      {"t":"2022-01","v":16320},{"t":"2022-02","v":14930},{"t":"2022-03","v":14240},{"t":"2022-03-29","v":15240},{"t":"2022-04","v":14840},{"t":"2022-05","v":12850},{"t":"2022-06","v":12640},{"t":"2022-06-16","v":11130},{"t":"2022-07","v":11500},{"t":"2022-08","v":12950},{"t":"2022-08-16","v":13670},{"t":"2022-09","v":12270},{"t":"2022-10","v":10970},{"t":"2022-10-13","v":10690},{"t":"2022-11","v":11410},{"t":"2022-12","v":11950},{"t":"2022-12-28","v":10680},
      {"t":"2023-01","v":10940},{"t":"2023-02","v":12100},{"t":"2023-03","v":12040},{"t":"2023-04","v":13180},{"t":"2023-05","v":13250},{"t":"2023-06","v":14250},{"t":"2023-07","v":15180},{"t":"2023-07-19","v":15840},{"t":"2023-08","v":15760},{"t":"2023-09","v":15500},{"t":"2023-10","v":14720},{"t":"2023-10-20","v":14701.72}
    ],
    "marker": [{"t":"2023-03-21"}]
  },
  "spacing": -3,
  "resolve": {"scale": {"color": "independent"}},
  "vconcat": [
    {
      "title": {
        "text": "30-Year US Treasury Yield (EOD)  INDX",
        "anchor": "start",
        "dx": 60,
        "dy": 10,
        "offset": 0,
        "font": "Liberation Sans",
        "fontSize": 10.5,
        "fontWeight": "normal",
        "color": "#c8c29a"
      },
      "vconcat": [
        {
          "width": 834,
          "height": 313,
          "title": {
            "text": "© StockCharts.com",
            "subtitle": "Open 4.87  High 5.11  Low 4.87  Close 5.09  Chg +0.31 (+6.49%) ▲",
            "anchor": "end",
            "frame": "group",
            "offset": 0,
            "font": "Liberation Sans",
            "fontSize": 10,
            "fontWeight": "normal",
            "color": "#9a9888",
            "subtitleFont": "Liberation Sans",
            "subtitleFontSize": 10.5,
            "subtitleColor": "#c8c29a",
            "subtitlePadding": 3
          },
          "encoding": {
            "x": {
              "field": "t", "type": "temporal",
              "scale": {"type": "utc", "domain": [{"year": 2011, "month": 10, "date": 19, "utc": true}, {"year": 2023, "month": 12, "date": 3, "utc": true}]},
              "axis": {
                "title": null, "grid": true, "ticks": false, "tickSize": 0, "domain": false,
                "tickCount": {"interval": "month", "step": 3},
                "labelExpr": "utcmonth(datum.value) == 0 ? utcFormat(datum.value, '%y') : substring(utcFormat(datum.value, '%b'), 0, 1)",
                "labelFont": "Liberation Sans",
                "labelFontSize": {"condition": {"test": "utcmonth(datum.value) == 0", "value": 11}, "value": 10},
                "labelFontWeight": {"condition": {"test": "utcmonth(datum.value) == 0", "value": "bold"}, "value": "normal"},
                "labelPadding": 2, "labelOverlap": false, "labelFlush": false
              }
            }
          },
          "layer": [
            {
              "data": {"name": "y30"},
              "mark": {"type": "line"},
              "encoding": {
                "y": {
                  "field": "v", "type": "quantitative",
                  "scale": {"domain": [-0.16, 6.112], "nice": false, "zero": false},
                  "axis": {"title": null, "orient": "right", "values": [0, 0.5, 1, 1.5, 2, 2.5, 3, 3.5, 4, 4.5, 5, 5.5, 6], "format": ".1f", "grid": true, "domain": false, "tickSize": 3, "labelPadding": 2, "labelFont": "Liberation Sans", "labelFontSize": 10, "labelFlush": false, "labelOverlap": false}
                },
                "color": {
                  "datum": "30-Year US Treasury Yield (EOD) (Weekly) 5.09",
                  "type": "nominal",
                  "scale": {
                    "domain": ["30-Year US Treasury Yield (EOD) (Weekly) 5.09", "10-Year US Treasury Yield (EOD) 4.93 (20 Oct)", "5-Year US Treasury Yield (EOD) 4.86 (20 Oct)", "2-Year US Treasury Yield (EOD) 5.07 (20 Oct)", "3-Month US Treasury Yield (EOD) 5.58 (20 Oct)", "1-Month US Treasury Yield (EOD) 5.56 (20 Oct)"],
                    "range": ["#0b9e0b", "#a0522d", "#ff6600", "#ff0000", "#8f45f0", "#ffffff"]
                  },
                  "legend": {
                    "title": null, "orient": "top-left", "offset": 0, "padding": 1,
                    "fillColor": "#000000", "strokeColor": "#4a4a4a",
                    "symbolType": "stroke", "symbolStrokeWidth": 3, "symbolSize": 64,
                    "labelFont": {"expr": "datum.index == 0 ? 'DejaVu Sans' : 'Liberation Sans'"},
                    "labelFontSize": {"expr": "datum.index == 0 ? 10.5 : 10"},
                    "labelColor": "#c8c29a", "labelLimit": 500, "labelOffset": 5, "rowPadding": 0.8,
                    "encode": {
                      "labels": {
                        "fill": {"value": {"expr": "['#c8c29a','#b0683e','#ff6a10','#ff2020','#9b5cf5','#ffffff'][datum.index]"}}
                      }
                    }
                  }
                }
              }
            },
            {
              "data": {"name": "y10"},
              "mark": {"type": "line"},
              "encoding": {
                "y": {"field": "v", "type": "quantitative", "scale": {"domain": [-0.16, 6.112], "nice": false, "zero": false}},
                "color": {"datum": "10-Year US Treasury Yield (EOD) 4.93 (20 Oct)", "type": "nominal"}
              }
            },
            {
              "data": {"name": "y5"},
              "mark": {"type": "line"},
              "encoding": {
                "y": {"field": "v", "type": "quantitative", "scale": {"domain": [-0.16, 6.112], "nice": false, "zero": false}},
                "color": {"datum": "5-Year US Treasury Yield (EOD) 4.86 (20 Oct)", "type": "nominal"}
              }
            },
            {
              "data": {"name": "y2"},
              "mark": {"type": "line"},
              "encoding": {
                "y": {"field": "v", "type": "quantitative", "scale": {"domain": [-0.16, 6.112], "nice": false, "zero": false}},
                "color": {"datum": "2-Year US Treasury Yield (EOD) 5.07 (20 Oct)", "type": "nominal"}
              }
            },
            {
              "data": {"name": "m3"},
              "mark": {"type": "line"},
              "encoding": {
                "y": {"field": "v", "type": "quantitative", "scale": {"domain": [-0.16, 6.112], "nice": false, "zero": false}},
                "color": {"datum": "3-Month US Treasury Yield (EOD) 5.58 (20 Oct)", "type": "nominal"}
              }
            },
            {
              "data": {"name": "m1"},
              "mark": {"type": "line"},
              "encoding": {
                "y": {"field": "v", "type": "quantitative", "scale": {"domain": [-0.16, 6.112], "nice": false, "zero": false}},
                "color": {"datum": "1-Month US Treasury Yield (EOD) 5.56 (20 Oct)", "type": "nominal"}
              }
            },
            {
              "data": {"name": "marker"},
              "mark": {"type": "rule", "color": "#ffffff", "strokeWidth": 3, "strokeDash": [3, 3]},
              "encoding": {}
            }
          ]
        }
      ]
    },
    {
      "width": 834,
      "height": 313,
      "encoding": {
        "x": {
          "field": "t", "type": "temporal",
          "scale": {"type": "utc", "domain": [{"year": 2011, "month": 10, "date": 19, "utc": true}, {"year": 2023, "month": 12, "date": 3, "utc": true}]},
          "axis": {"title": null, "grid": true, "ticks": false, "tickSize": 0, "domain": false, "labels": false, "tickCount": {"interval": "month", "step": 3}}
        }
      },
      "layer": [
        {
          "data": {"name": "curve"},
          "mark": {"type": "line"},
          "encoding": {
            "y": {
              "field": "v", "type": "quantitative",
              "scale": {"domain": [-1.924, 3.065], "nice": false, "zero": false},
              "axis": {"title": null, "orient": "right", "values": [-1.75, -1.5, -1.25, -1, -0.75, -0.5, -0.25, 0, 0.25, 0.5, 0.75, 1, 1.25, 1.5, 1.75, 2, 2.25, 2.5, 2.75, 3], "format": ".2f", "grid": true, "domain": false, "tickSize": 3, "labelAlign": "right", "labelPadding": 24, "labelFont": "Liberation Sans", "labelFontSize": 10, "labelFlush": false, "labelOverlap": false}
            },
            "color": {
              "datum": "Yield Curve - 3 Month Bonds (EOD) -0.65 (20 Oct)",
              "type": "nominal",
              "scale": {"range": ["#12a612"]},
              "legend": {
                "title": null, "orient": "top-left", "offset": 0, "padding": 1,
                "fillColor": "#000000", "strokeColor": "#4a4a4a",
                "symbolType": "stroke", "symbolStrokeWidth": 3, "symbolSize": 64,
                "labelFont": "DejaVu Sans", "labelFontSize": 9.5, "labelColor": "#c8c29a", "labelLimit": 500, "labelOffset": 5
              }
            }
          }
        },
        {
          "data": {"name": "marker"},
          "mark": {"type": "rule", "color": "#ffffff", "strokeWidth": 3, "strokeDash": [3, 3]},
          "encoding": {}
        }
      ]
    },
    {
      "width": 834,
      "height": 314,
      "encoding": {
        "x": {
          "field": "t", "type": "temporal",
          "scale": {"type": "utc", "domain": [{"year": 2011, "month": 10, "date": 19, "utc": true}, {"year": 2023, "month": 12, "date": 3, "utc": true}]},
          "axis": {
            "title": null, "grid": true, "ticks": false, "tickSize": 0, "domain": false,
            "tickCount": {"interval": "month", "step": 3},
            "labelExpr": "utcmonth(datum.value) == 0 ? utcFormat(datum.value, '%y') : substring(utcFormat(datum.value, '%b'), 0, 1)",
            "labelFont": "Liberation Sans",
            "labelFontSize": {"condition": {"test": "utcmonth(datum.value) == 0", "value": 11}, "value": 10},
            "labelFontWeight": {"condition": {"test": "utcmonth(datum.value) == 0", "value": "bold"}, "value": "normal"},
            "labelPadding": 1.5, "labelOverlap": false, "labelFlush": false
          }
        }
      },
      "layer": [
        {
          "data": {"name": "ndx"},
          "mark": {"type": "line"},
          "encoding": {
            "y": {
              "field": "v", "type": "quantitative",
              "scale": {"domain": [1793, 16879], "nice": false, "zero": false},
              "axis": {"title": null, "orient": "right", "values": [2000, 3000, 4000, 5000, 6000, 7000, 8000, 9000, 10000, 11000, 12000, 13000, 14000, 15000, 16000], "format": "d", "grid": true, "domain": false, "tickSize": 3, "labelAlign": "right", "labelPadding": 30, "labelFont": "Liberation Sans", "labelFontSize": 10, "labelFlush": false, "labelOverlap": false}
            },
            "color": {
              "datum": "Nasdaq 100 Index 14701.72",
              "type": "nominal",
              "scale": {"range": ["#ffffff"]},
              "legend": {
                "title": null, "orient": "top-left", "offset": 0, "padding": 1,
                "fillColor": "#000000", "strokeColor": "#4a4a4a",
                "symbolType": "stroke", "symbolStrokeWidth": 3, "symbolSize": 64,
                "labelFont": "DejaVu Sans", "labelFontSize": 10.5, "labelColor": "#c8c29a", "labelLimit": 500, "labelOffset": 5
              }
            }
          }
        },
        {
          "data": {"name": "marker"},
          "mark": {"type": "rule", "color": "#ffffff", "strokeWidth": 3, "strokeDash": [3, 3]},
          "encoding": {}
        }
      ]
    }
  ],
  "config": {
    "view": {"stroke": "#7f7f7f", "strokeWidth": 1},
    "axis": {"gridColor": "#3a3a3a", "gridWidth": 1, "labelColor": "#c8c29a", "tickColor": "#7f7f7f"},
    "line": {"strokeWidth": 1.4}
  }
}
